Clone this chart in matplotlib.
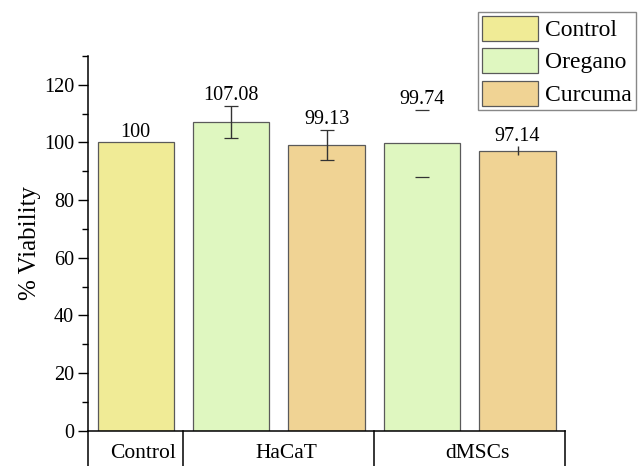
import matplotlib.pyplot as plt
from matplotlib.ticker import MultipleLocator

# data
groups = ['Control', 'HaCaT', 'dMSCs']
treatments = ['Control', 'Oregano', 'Curcuma', 'Oregano', 'Curcuma']
viability = [100, 107.08, 99.13, 99.74, 97.14]
errors = [0, 5.6, 5.3, 11.6, 1.6]
value_labels = ['100', '107.08', '99.13', '99.74', '97.14']

colors = {'Control': '#F0EB96', 'Oregano': '#DFF7C0', 'Curcuma': '#F0D394'}
caps = [0, 5, 5, 5, 0]
err_lw = [0, 1.0, 1.0, 0, 1.0]

plt.rcParams['font.family'] = ['Liberation Serif', 'DejaVu Serif']

fig = plt.figure(figsize=(6.38, 4.66), dpi=100)
ax = fig.add_axes([0.138, 0.0758, 0.748, 0.804])

x = list(range(1, len(viability) + 1))
bars = ax.bar(x, viability, width=0.8,
              color=[colors[t] for t in treatments],
              edgecolor='#5a5a5a', linewidth=0.9)

for xi, v, e, cs, lw, lab in zip(x, viability, errors, caps, err_lw, value_labels):
    if e > 0:
        ax.errorbar(xi, v, yerr=e, fmt='none', ecolor='#333333',
                    elinewidth=lw, capsize=cs, capthick=0.9)
    ax.annotate(lab, (xi, v + e), xytext=(0, 4), textcoords='offset points',
                ha='center', va='baseline', fontsize=14.5)

ax.set_xlim(0.5, 5.5)
ax.set_ylim(0, 130)
ax.set_xticks([])
ax.yaxis.set_major_locator(MultipleLocator(20))
ax.yaxis.set_minor_locator(MultipleLocator(10))
ax.tick_params(axis='y', which='major', length=7, width=1.0, labelsize=14.5, pad=3)
ax.tick_params(axis='y', which='minor', length=4, width=1.0)
ax.spines['top'].set_visible(False)
ax.spines['right'].set_visible(False)
for s in ['left', 'bottom']:
    ax.spines[s].set_linewidth(1.1)
ax.set_ylabel('% Viability', fontsize=18, labelpad=2)

# category boxes below the axis
tr = ax.get_xaxis_transform()
for sx in [0.5, 1.5, 3.5, 5.5]:
    ax.plot([sx, sx], [0, -0.12], transform=tr, color='black', lw=1.1, clip_on=False)
group_centers = [1, 2.5, 4.5]
for gx, g in zip(group_centers, groups):
    ax.text(gx + 0.08, -0.06, g, transform=tr, ha='center', va='center', fontsize=15.5)

handles = [plt.Rectangle((0, 0), 1, 1, facecolor=colors[k], edgecolor='#5a5a5a', linewidth=0.9)
           for k in colors]
leg = fig.legend(handles, list(colors.keys()), loc='upper left',
                 bbox_to_anchor=(478 / 638, 1 - 12 / 466), fontsize=17,
                 handlelength=2.4, handleheight=1.25, labelspacing=0.3,
                 handletextpad=0.3, borderpad=0.15, borderaxespad=0,
                 fancybox=False, framealpha=1)
leg.get_frame().set_edgecolor('#888888')
leg.get_frame().set_linewidth(1.0)

plt.savefig('out.png', dpi=100)
